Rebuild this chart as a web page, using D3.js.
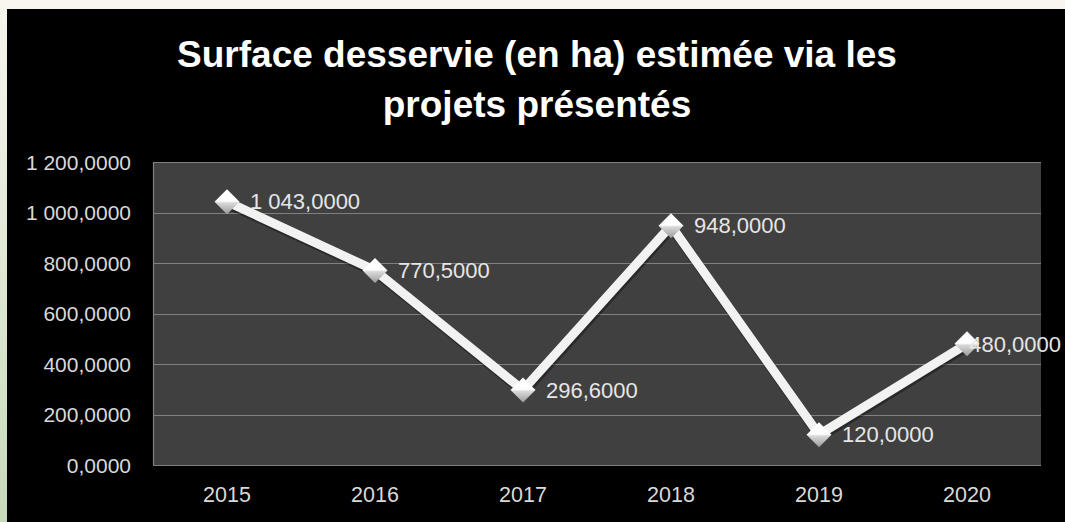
<!DOCTYPE html>
<html>
<head>
<meta charset="utf-8">
<script src="https://cdn.jsdelivr.net/npm/d3@7"></script>
<style>
  html, body { margin: 0; padding: 0; overflow: hidden; }
  body { width: 1065px; height: 522px; }
</style>
</head>
<body>
<svg id="chart" width="1065" height="522"></svg>
<script>
const titleLines = ["Surface desservie (en ha) estimée via les", "projets présentés"];
const categories = ["2015", "2016", "2017", "2018", "2019", "2020"];
const values = [1043, 770.5, 296.6, 948, 120, 480];
const yTicks = [0, 200, 400, 600, 800, 1000, 1200];

const W = 1065, H = 522;
const svg = d3.select("#chart");
const defs = svg.append("defs");

// page background outside the chart
const bg = defs.append("linearGradient").attr("id", "pageBg").attr("x1", 0).attr("y1", 0).attr("x2", 0).attr("y2", 1);
bg.append("stop").attr("offset", "0%").attr("stop-color", "#f7f5ec");
bg.append("stop").attr("offset", "45%").attr("stop-color", "#e3ead6");
bg.append("stop").attr("offset", "100%").attr("stop-color", "#c5dabd");
svg.append("rect").attr("width", W).attr("height", H).attr("fill", "url(#pageBg)");
svg.append("rect").attr("x", 0).attr("y", 0).attr("width", W).attr("height", 9).attr("fill", "#f8f6ee");

// chart area
svg.append("rect").attr("x", 7).attr("y", 9).attr("width", W - 7).attr("height", H - 9).attr("fill", "#000");

const fontFam = "'Liberation Sans', Arial, sans-serif";

// title
svg.append("g").selectAll("text").data(titleLines).join("text")
  .attr("x", 537).attr("y", (d, i) => 67 + i * 50)
  .attr("text-anchor", "middle")
  .attr("font-family", fontFam).attr("font-weight", "bold").attr("font-size", 37)
  .attr("fill", "#ffffff")
  .text(d => d);

// plot area
const plot = { left: 153, right: 1041, top: 162, bottom: 465 };
const x = d3.scaleBand().domain(categories).range([plot.left, plot.right]);
const y = d3.scaleLinear().domain([0, 1200]).range([plot.bottom, plot.top]);

svg.append("rect").attr("x", plot.left).attr("y", plot.top)
  .attr("width", plot.right - plot.left).attr("height", plot.bottom - plot.top)
  .attr("fill", "#404040");

// gridlines
svg.append("g").selectAll("line").data(yTicks).join("line")
  .attr("x1", plot.left).attr("x2", plot.right)
  .attr("y1", d => Math.round(y(d)) + 0.5).attr("y2", d => Math.round(y(d)) + 0.5)
  .attr("stroke", "#808080").attr("stroke-width", 1.2);
svg.append("line").attr("x1", plot.left + 0.5).attr("x2", plot.left + 0.5)
  .attr("y1", plot.top).attr("y2", plot.bottom)
  .attr("stroke", "#808080").attr("stroke-width", 1.2);

const fmt = v => {
  const s = d3.format(",.4f")(v);
  return s.replace(/,/g, " ").replace(".", ",");
};

// y axis
const yAxis = d3.axisLeft(y).tickValues(yTicks).tickSize(0).tickPadding(0).tickFormat(fmt);
const gy = svg.append("g").attr("transform", `translate(131,0)`).call(yAxis);
gy.select(".domain").remove();
gy.selectAll("text").attr("font-family", fontFam).attr("font-size", 21).attr("fill", "#d9d9d9").attr("dy", "0.35em");

// x axis
const xAxis = d3.axisBottom(x).tickSize(0).tickPadding(0);
const gx = svg.append("g").attr("transform", `translate(0,489)`).call(xAxis);
gx.select(".domain").remove();
gx.selectAll("text").attr("font-family", fontFam).attr("font-size", 21.5).attr("fill", "#d9d9d9").attr("dy", "0.6em");

// line
const data = categories.map((c, i) => ({ c, v: values[i] }));
const cx = d => x(d.c) + x.bandwidth() / 2;
const line = d3.line().x(cx).y(d => y(d.v));
svg.append("path").datum(data).attr("d", line)
  .attr("fill", "none").attr("stroke", "#000").attr("stroke-opacity", 0.35)
  .attr("stroke-width", 10).attr("transform", "translate(1,2)").attr("stroke-linejoin", "round");
svg.append("path").datum(data).attr("d", line)
  .attr("fill", "none").attr("stroke", "#f2f2f2").attr("stroke-width", 9).attr("stroke-linejoin", "round");

// markers
const mg = defs.append("linearGradient").attr("id", "mk").attr("x1", 0).attr("y1", 0).attr("x2", 0).attr("y2", 1);
mg.append("stop").attr("offset", "0%").attr("stop-color", "#ffffff");
mg.append("stop").attr("offset", "48%").attr("stop-color", "#fdfdfd");
mg.append("stop").attr("offset", "55%").attr("stop-color", "#d9d9d9");
mg.append("stop").attr("offset", "100%").attr("stop-color", "#9a9a9a");
const r = 12.5;
svg.append("g").selectAll("path").data(data).join("path")
  .attr("d", d => { const px = cx(d), py = y(d.v); return `M${px},${py - r}L${px + r},${py}L${px},${py + r}L${px - r},${py}Z`; })
  .attr("fill", "url(#mk)");

// data labels
const labels = svg.append("g").selectAll("text").data(data).join("text")
  .attr("font-family", fontFam).attr("font-size", 22).attr("fill", "#e6e6e6")
  .attr("y", d => y(d.v)).attr("dy", "0.35em")
  .text(d => fmt(d.v));
labels.each(function(d) {
  const w = this.getComputedTextLength();
  let lx = cx(d) + 23;
  if (lx + w > W - 4) lx = W - 4 - w;
  d3.select(this).attr("x", lx);
});
</script>
</body>
</html>
